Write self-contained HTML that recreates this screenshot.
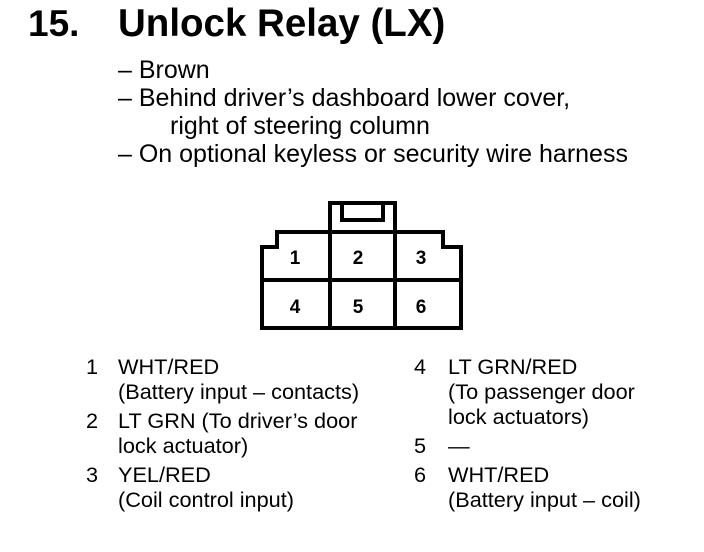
<!DOCTYPE html>
<html><head><style>
body{margin:0;width:704px;height:552px;background:#fff;overflow:hidden;position:relative;font-family:"Liberation Sans",Arial,sans-serif;color:#000}
.t{position:absolute;white-space:nowrap;font-size:25px;line-height:28px}
.b{position:absolute;white-space:nowrap;font-size:21.7px;line-height:25px}
.h{position:absolute;font-weight:bold;font-size:37px;line-height:40px;top:4px;white-space:nowrap}
</style></head><body>
<div class="h" style="left:28px">15.</div>
<div class="h" style="left:118px;font-size:38.5px">Unlock Relay (LX)</div>
<div class="t" style="left:118px;top:56px">– Brown</div>
<div class="t" style="left:118px;top:84px">– Behind driver’s dashboard lower cover,</div>
<div class="t" style="left:170px;top:112px">right of steering column</div>
<div class="t" style="left:118px;top:140px">– On optional keyless or security wire harness</div>
<svg width="704" height="552" style="position:absolute;left:0;top:0">
<g fill="none" stroke="#000" stroke-width="4" stroke-linejoin="miter">
<path d="M330 232 V203 H395 V232"/>
<path d="M342 203 V220 H383 V203"/>
<path d="M277 232 H443 V247 H461 V328 H262 V247 H277 Z"/>
<line x1="262" y1="280" x2="461" y2="280"/>
<line x1="330" y1="232" x2="330" y2="328"/>
<line x1="395" y1="232" x2="395" y2="328"/>
</g>
<g font-family="Liberation Sans,Arial,sans-serif" font-weight="bold" font-size="19" text-anchor="middle">
<text x="295" y="264">1</text><text x="358" y="264">2</text><text x="421" y="264">3</text>
<text x="295" y="313">4</text><text x="358" y="313">5</text><text x="421" y="313">6</text>
</g>
</svg>
<div class="b" style="left:86px;top:354px">1</div>
<div class="b" style="left:118px;top:354px">WHT/RED</div>
<div class="b" style="left:118px;top:379px">(Battery input – contacts)</div>
<div class="b" style="left:86px;top:408px">2</div>
<div class="b" style="left:118px;top:408px">LT GRN (To driver’s door</div>
<div class="b" style="left:118px;top:433px">lock actuator)</div>
<div class="b" style="left:86px;top:462px">3</div>
<div class="b" style="left:118px;top:462px">YEL/RED</div>
<div class="b" style="left:118px;top:487px">(Coil control input)</div>
<div class="b" style="left:414px;top:354px">4</div>
<div class="b" style="left:448px;top:354px">LT GRN/RED</div>
<div class="b" style="left:448px;top:379px">(To passenger door</div>
<div class="b" style="left:448px;top:404px">lock actuators)</div>
<div class="b" style="left:414px;top:433px">5</div>
<div class="b" style="left:448px;top:433px">—</div>
<div class="b" style="left:414px;top:462px">6</div>
<div class="b" style="left:448px;top:462px">WHT/RED</div>
<div class="b" style="left:448px;top:487px">(Battery input – coil)</div>
</body></html>
